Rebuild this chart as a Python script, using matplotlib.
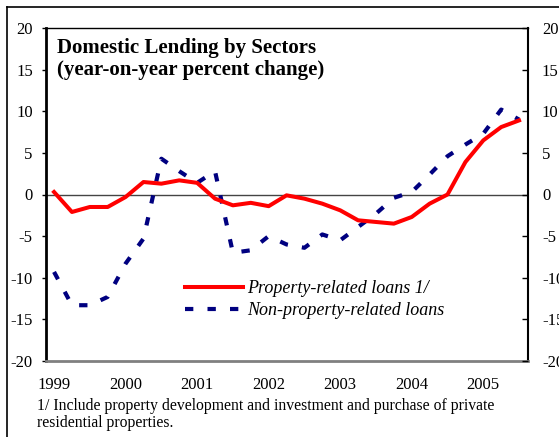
import matplotlib
matplotlib.use("Agg")
import matplotlib.pyplot as plt
from matplotlib.lines import Line2D

plt.rcParams['font.family'] = ['Liberation Serif', 'DejaVu Serif']

# quarterly data, 1999Q1 .. 2005Q3
years = ['1999', '2000', '2001', '2002', '2003', '2004', '2005']
property_loans = [0.3, -2.1, -1.5, -1.5, -0.3, 1.5, 1.3, 1.7, 1.4, -0.5,
                  -1.3, -1.0, -1.4, -0.1, -0.5, -1.1, -1.9, -3.1, -3.3, -3.5,
                  -2.7, -1.1, 0.0, 3.9, 6.5, 8.1, 8.9]
non_property_loans = [-9.3, -13.3, -13.3, -12.3, -8.3, -5.3, 4.3, 2.8, 1.4, 2.8,
                      -7.0, -6.7, -5.0, -6.0, -6.4, -4.8, -5.5, -3.9, -2.3, -0.4,
                      0.3, 2.4, 4.6, 6.0, 7.3, 10.2, 9.0]
yticks = [-20, -15, -10, -5, 0, 5, 10, 15, 20]

W, H = 559, 437
fig = plt.figure(figsize=(W / 100, H / 100), dpi=100)
ax = fig.add_axes([46 / W, 1 - 361 / H, (528 - 46) / W, (361 - 28) / H])

x = list(range(len(property_loans)))
ax.axhline(0, color='#444444', lw=1.0, zorder=1)
l1, = ax.plot(x, property_loans, color='#ff0000', lw=2.9, solid_joinstyle='round',
              label='Property-related loans 1/', zorder=3)
l2, = ax.plot(x, non_property_loans, color='#000080', lw=3.0,
              linestyle=(0, (2.0, 3.4)), dash_capstyle='butt',
              label='Non-property-related loans', zorder=2)

ax.set_xlim(-0.45, 26.5)
ax.set_ylim(-20, 20)
ax.set_yticks(yticks)
ax.set_yticklabels([str(v) for v in yticks])
ax.set_xticks([4 * i for i in range(len(years))])
ax.set_xticklabels(years)
ax.tick_params(axis='x', length=0, pad=11.5, labelsize=12)
ax.tick_params(axis='y', direction='out', length=3, width=1, pad=6.5, labelsize=12)

ax.spines['left'].set_linewidth(2)
ax.spines['bottom'].set_linewidth(2)
ax.spines['bottom'].set_color('#808080')
ax.spines['top'].set_linewidth(1)
ax.spines['right'].set_linewidth(1.5)

ax2 = ax.twinx()
ax2.set_ylim(-20, 20)
ax2.set_yticks(yticks)
ax2.set_yticklabels([str(v) for v in yticks])
ax2.tick_params(axis='y', direction='in', length=4, width=1, pad=10, labelsize=12)
for s in ax2.spines.values():
    s.set_visible(False)

fig.text(57 / W, 1 - 53 / H, 'Domestic Lending by Sectors', fontsize=15,
         fontweight='bold', va='baseline', ha='left')
fig.text(57 / W, 1 - 75 / H, '(year-on-year percent change)', fontsize=15,
         fontweight='bold', va='baseline', ha='left')

leg = ax.legend(handles=[l1, l2], loc='upper left',
                bbox_to_anchor=(185 / W, 1 - 280 / H), bbox_transform=fig.transFigure,
                frameon=False, borderpad=0, borderaxespad=0, handlelength=3.2,
                handletextpad=0.25, labelspacing=0.3,
                prop={'style': 'italic', 'size': 13})

fig.text(37 / W, 1 - 410 / H,
         '1/ Include property development and investment and purchase of private',
         fontsize=11.3, va='baseline', ha='left')
fig.text(37 / W, 1 - 427 / H, 'residential properties.', fontsize=11.3,
         va='baseline', ha='left')

# outer frame (only top and left edges fall inside the picture)
fig.add_artist(Line2D([7 / W, 1], [1 - 7 / H, 1 - 7 / H], color='black', lw=1.2,
                      transform=fig.transFigure))
fig.add_artist(Line2D([7 / W, 7 / W], [0, 1 - 7 / H], color='black', lw=1.2,
                      transform=fig.transFigure))

fig.savefig('out.png', dpi=100)
